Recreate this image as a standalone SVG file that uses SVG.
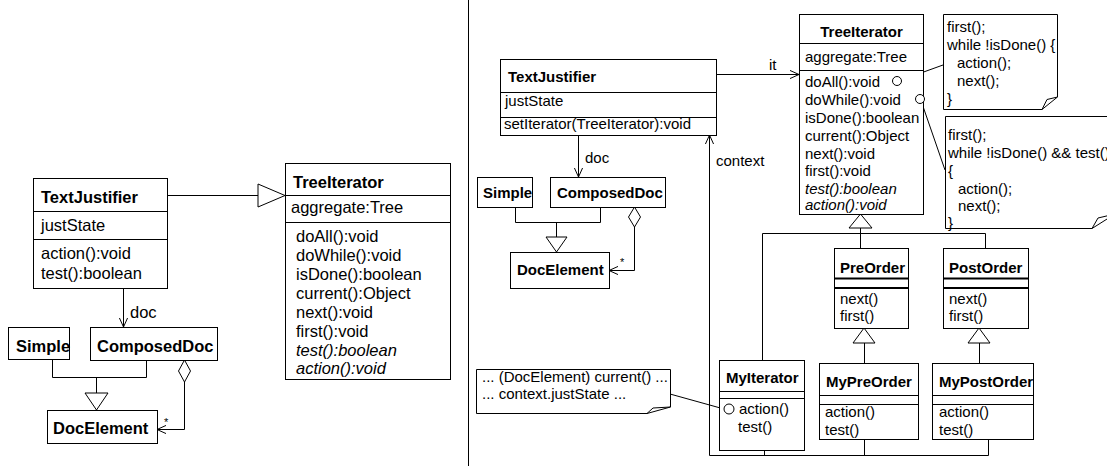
<svg xmlns="http://www.w3.org/2000/svg" width="1107" height="466" viewBox="0 0 1107 466">
<style>
text{font-family:"Liberation Sans",Arial,sans-serif;fill:#000}
.l{font-size:16.5px}
.r{font-size:15px}
.b{font-weight:bold}
.i{font-style:italic}
.box{fill:#fff;stroke:#000;stroke-width:1}
.ln{fill:none;stroke:#000;stroke-width:1}
.thick{stroke:#000;stroke-width:2}
.tri{fill:#fff;stroke:#000;stroke-width:1}
.sm{font-size:11px}
</style>
<defs>
<marker id="open" viewBox="0 0 10 10" refX="10" refY="5" markerWidth="9" markerHeight="9" orient="auto" markerUnits="userSpaceOnUse">
<path d="M0,0.5 L10,5 L0,9.5" fill="none" stroke="#000" stroke-width="1.1"/>
</marker>
</defs>
<rect width="1107" height="466" fill="#fff"/>

<!-- divider -->
<line x1="468.5" y1="0" x2="468.5" y2="466" class="ln"/>

<!-- ============ LEFT PANEL ============ -->
<g id="connectors-left">
<line x1="167" y1="195.5" x2="258" y2="195.5" class="ln"/>
<polygon points="258,184 285,195.5 258,207" class="tri"/>
<line x1="123.5" y1="288" x2="123.5" y2="327" class="ln" marker-end="url(#open)"/>
<text x="130" y="318" class="l">doc</text>
<polyline points="52.5,359 52.5,377.5 146.5,377.5 146.5,360" class="ln"/>
<line x1="96.5" y1="377.5" x2="96.5" y2="393" class="ln"/>
<polygon points="85,393 108,393 96.5,410" class="tri"/>
<polygon points="184.5,360 190.5,371 184.5,382 178.5,371" class="tri"/>
<polyline points="184.5,382 184.5,429.5 157,429.5" class="ln" marker-end="url(#open)"/>
<text x="164" y="426" class="sm">*</text>
</g>

<g id="L-TextJustifier">
<rect x="33.5" y="178.5" width="134" height="110" class="box"/>
<line x1="33.5" y1="211.5" x2="167.5" y2="211.5" class="ln"/>
<line x1="33.5" y1="239.5" x2="167.5" y2="239.5" class="ln"/>
<text x="41" y="203" class="l b">TextJustifier</text>
<text x="41" y="231" class="l">justState</text>
<text x="41" y="259" class="l">action():void</text>
<text x="41" y="279" class="l">test():boolean</text>
</g>

<g id="L-TreeIterator">
<rect x="285.5" y="163.5" width="165" height="216" class="box"/>
<line x1="285.5" y1="195.5" x2="450.5" y2="195.5" class="ln"/>
<line x1="285.5" y1="222.5" x2="450.5" y2="222.5" class="ln"/>
<text x="293" y="188" class="l b">TreeIterator</text>
<text x="291" y="213" class="l">aggregate:Tree</text>
<text x="296" y="242" class="l">doAll():void</text>
<text x="296" y="261" class="l">doWhile():void</text>
<text x="296" y="280" class="l">isDone():boolean</text>
<text x="296" y="299" class="l">current():Object</text>
<text x="296" y="318" class="l">next():void</text>
<text x="296" y="337" class="l">first():void</text>
<text x="296" y="356" class="l i">test():boolean</text>
<text x="296" y="374" class="l i">action():void</text>
</g>

<g id="L-Simple">
<rect x="8.5" y="327.5" width="61" height="32" class="box"/>
<text x="16" y="352" class="l b">Simple</text>
</g>
<g id="L-ComposedDoc">
<rect x="90.5" y="327.5" width="127" height="33" class="box"/>
<text x="97" y="352" class="l b">ComposedDoc</text>
</g>
<g id="L-DocElement">
<rect x="47.5" y="410.5" width="110" height="33" class="box"/>
<text x="53" y="434" class="l b">DocElement</text>
</g>

<!-- ============ RIGHT PANEL ============ -->
<g id="connectors-right">
<line x1="716" y1="74.5" x2="799" y2="74.5" class="ln" marker-end="url(#open)"/>
<text x="769" y="70" class="r">it</text>
<line x1="578.5" y1="135" x2="578.5" y2="177" class="ln" marker-end="url(#open)"/>
<text x="585" y="163" class="r">doc</text>
<polyline points="515.5,207 515.5,222.5 600.5,222.5 600.5,207" class="ln"/>
<line x1="556.5" y1="222.5" x2="556.5" y2="237" class="ln"/>
<polygon points="546,237 567,237 556.5,252" class="tri"/>
<polygon points="634.5,207 640.5,217 634.5,227 628.5,217" class="tri"/>
<polyline points="634.5,227 634.5,270.5 609,270.5" class="ln" marker-end="url(#open)"/>
<text x="620" y="266" class="sm">*</text>
<line x1="709.5" y1="455.5" x2="709.5" y2="135" class="ln" marker-end="url(#open)"/>
<text x="716" y="166" class="r">context</text>
<polyline points="709.5,455.5 988.5,455.5" class="ln"/>
<line x1="764.5" y1="450" x2="764.5" y2="455.5" class="ln"/>
<line x1="864.5" y1="439" x2="864.5" y2="455.5" class="ln"/>
<line x1="988.5" y1="439" x2="988.5" y2="455.5" class="ln"/>
<polygon points="849,228 872,228 860.5,214" class="tri"/>
<line x1="860.5" y1="228" x2="860.5" y2="248" class="ln"/>
<polyline points="762.5,360 762.5,233.5 985.5,233.5 985.5,248" class="ln"/>
<polygon points="853,343 875,343 864,328" class="tri"/>
<line x1="864.5" y1="343" x2="864.5" y2="363" class="ln"/>
<polygon points="968,343 990,343 979,328" class="tri"/>
<line x1="979.5" y1="343" x2="979.5" y2="363" class="ln"/>
<!-- note links -->
<line x1="901.5" y1="80" x2="943" y2="65" class="ln"/>
<line x1="922" y1="103.5" x2="945" y2="170" class="ln"/>
<line x1="670" y1="394" x2="724" y2="409" class="ln"/>
</g>

<g id="R-TextJustifier">
<rect x="500.5" y="59.5" width="216" height="76" class="box"/>
<line x1="500.5" y1="92.5" x2="716.5" y2="92.5" class="ln"/>
<line x1="500.5" y1="117.5" x2="716.5" y2="117.5" class="ln"/>
<text x="508" y="82" class="r b">TextJustifier</text>
<text x="505" y="106" class="r">justState</text>
<text x="504" y="129" class="r">setIterator(TreeIterator):void</text>
</g>

<g id="R-Simple">
<rect x="477.5" y="177.5" width="55" height="30" class="box"/>
<text x="483" y="198" class="r b">Simple</text>
</g>
<g id="R-ComposedDoc">
<rect x="550.5" y="177.5" width="115" height="30" class="box"/>
<text x="557" y="198" class="r b">ComposedDoc</text>
</g>
<g id="R-DocElement">
<rect x="510.5" y="252.5" width="99" height="36" class="box"/>
<text x="517" y="275" class="r b">DocElement</text>
</g>

<g id="R-TreeIterator">
<rect x="799.5" y="14.5" width="124" height="200" class="box"/>
<line x1="799.5" y1="43.5" x2="923.5" y2="43.5" class="ln"/>
<line x1="799.5" y1="70.5" x2="923.5" y2="70.5" class="ln"/>
<text x="861.5" y="37" class="r b" text-anchor="middle">TreeIterator</text>
<text x="805" y="62" class="r">aggregate:Tree</text>
<text x="805" y="87" class="r">doAll():void</text>
<text x="805" y="105" class="r">doWhile():void</text>
<text x="805" y="123" class="r">isDone():boolean</text>
<text x="805" y="141" class="r">current():Object</text>
<text x="805" y="159" class="r">next():void</text>
<text x="805" y="176" class="r">first():void</text>
<text x="805" y="194" class="r i">test():boolean</text>
<text x="805" y="210" class="r i">action():void</text>
<circle cx="897" cy="81" r="4.5" class="box"/>
<circle cx="920" cy="99" r="4.5" class="box"/>
</g>

<g id="Note-doAll">
<path d="M943.5,14.5 H1057.5 V97 L1042,109.5 H943.5 Z" class="box"/>
<path d="M1042,109.5 L1047,99.5 L1057.5,97" class="ln"/>
<text x="947" y="32" class="r">first();</text>
<text x="947" y="50" class="r">while !isDone() {</text>
<text x="957" y="68" class="r">action();</text>
<text x="957" y="86" class="r">next();</text>
<text x="947" y="104" class="r">}</text>
</g>

<g id="Note-doWhile">
<path d="M945.5,116.5 H1115 V214 L1092,228.5 H945.5 Z" class="box"/>
<path d="M1092,228.5 L1098,218 L1115,214" class="ln"/>
<text x="948" y="140" class="r">first();</text>
<text x="948" y="158" class="r">while !isDone() &amp;&amp; test()</text>
<text x="948" y="176" class="r">{</text>
<text x="958" y="194" class="r">action();</text>
<text x="958" y="211" class="r">next();</text>
<text x="948" y="228" class="r">}</text>
</g>

<g id="R-PreOrder">
<rect x="834.5" y="248.5" width="74" height="80" class="box"/>
<line x1="834.5" y1="278.5" x2="908.5" y2="278.5" class="thick"/>
<line x1="834.5" y1="288" x2="908.5" y2="288" class="thick"/>
<text x="840" y="273" class="r b">PreOrder</text>
<text x="840" y="304" class="r">next()</text>
<text x="840" y="321" class="r">first()</text>
</g>

<g id="R-PostOrder">
<rect x="943.5" y="248.5" width="85" height="80" class="box"/>
<line x1="943.5" y1="278.5" x2="1028.5" y2="278.5" class="thick"/>
<line x1="943.5" y1="288" x2="1028.5" y2="288" class="thick"/>
<text x="949" y="273" class="r b">PostOrder</text>
<text x="949" y="304" class="r">next()</text>
<text x="949" y="321" class="r">first()</text>
</g>

<g id="R-MyIterator">
<rect x="719.5" y="360.5" width="85" height="90" class="box"/>
<line x1="719.5" y1="391.5" x2="804.5" y2="391.5" class="ln"/>
<line x1="719.5" y1="398.5" x2="804.5" y2="398.5" class="ln"/>
<text x="726" y="383" class="r b">MyIterator</text>
<circle cx="729" cy="409" r="5" class="box"/>
<text x="739" y="414" class="r">action()</text>
<text x="738" y="432" class="r">test()</text>
</g>

<g id="R-MyPreOrder">
<rect x="819.5" y="363.5" width="99" height="76" class="box"/>
<line x1="819.5" y1="395.5" x2="918.5" y2="395.5" class="ln"/>
<line x1="819.5" y1="404.5" x2="918.5" y2="404.5" class="ln"/>
<text x="826" y="387" class="r b">MyPreOrder</text>
<text x="825" y="417" class="r">action()</text>
<text x="825" y="435" class="r">test()</text>
</g>

<g id="R-MyPostOrder">
<rect x="932.5" y="363.5" width="101" height="76" class="box"/>
<line x1="932.5" y1="395.5" x2="1033.5" y2="395.5" class="ln"/>
<line x1="932.5" y1="404.5" x2="1033.5" y2="404.5" class="ln"/>
<text x="939" y="387" class="r b">MyPostOrder</text>
<text x="939" y="417" class="r">action()</text>
<text x="939" y="435" class="r">test()</text>
</g>

<g id="Note-MyIterator">
<path d="M476.5,369.5 H670.5 V407 L647,413.5 H476.5 Z" class="box"/>
<path d="M647,413.5 L653,408 L670.5,407" class="ln"/>
<text x="482" y="382" class="r">... (DocElement) current() ...</text>
<text x="482" y="399" class="r">... context.justState ...</text>
</g>
</svg>
